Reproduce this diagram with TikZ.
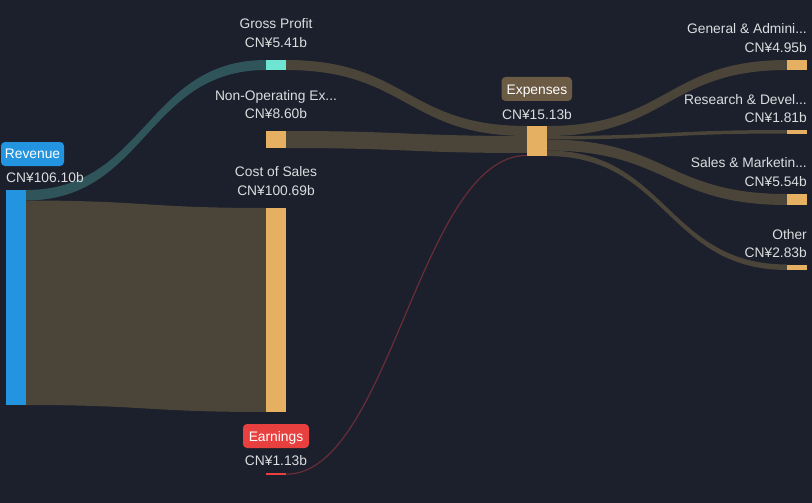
\documentclass[tikz,border=0pt]{standalone}
\usepackage{fontspec}
\setmainfont{Liberation Sans}
\usetikzlibrary{calc}
\begin{document}
\begin{tikzpicture}[x=1pt,y=-1pt]
\definecolor{bg}{HTML}{1B202C}
\definecolor{txt}{HTML}{DCDDDF}
\definecolor{flowbrown}{HTML}{4B4439}
\definecolor{flowteal}{HTML}{2F5459}
\definecolor{flowred}{HTML}{6A2D36}
\definecolor{barorange}{HTML}{E6B063}
\definecolor{barteal}{HTML}{6EE5D3}
\definecolor{barblue}{HTML}{2394DF}
\definecolor{barred}{HTML}{E8403F}
\definecolor{boxbrown}{HTML}{6B5B45}
\tikzset{
  lbl/.style={font=\fontsize{13.8}{15}\selectfont, text=txt, inner sep=0pt, anchor=base},
  lblr/.style={lbl, anchor=base east},
  lbll/.style={lbl, anchor=base west},
  barnode/.style={draw=none, inner sep=0pt, minimum width=20pt, anchor=north west}
}
\newcommand\flowband[7]{%
  \fill[#7] (#1,#2) .. controls ({(#1+#4)/2},#2) and ({(#1+#4)/2},#5) .. (#4,#5)
    -- (#4,#6) .. controls ({(#1+#4)/2},#6) and ({(#1+#4)/2},#3) .. (#1,#3) -- cycle;}
\useasboundingbox (0,0) rectangle (812,503);
\fill[bg] (0,0) rectangle (812,503);
% flows
\flowband{26}{190}{200.5}{266}{60}{70}{flowteal}
\flowband{26}{200.5}{405}{266}{208}{412}{flowbrown}
\flowband{286}{60}{70}{527}{126}{136}{flowbrown}
\flowband{286}{131}{148}{527}{136}{153}{flowbrown}
\flowband{547}{126}{136}{787}{60}{70}{flowbrown}
\flowband{547}{136}{139.5}{787}{130}{133.5}{flowbrown}
\flowband{547}{139.5}{150.5}{787}{194}{205}{flowbrown}
\flowband{547}{150.5}{156}{787}{264.5}{270}{flowbrown}
% bars
\node[barnode, fill=barblue, minimum height=215pt] (rev) at (6,190) {};
\node[barnode, fill=barteal, minimum height=10pt] (gp) at (266,60) {};
\node[barnode, fill=barorange, minimum height=17pt] (nonop) at (266,131) {};
\node[barnode, fill=barorange, minimum height=204pt] (cos) at (266,208) {};
\node[barnode, fill=barred, minimum height=2pt] (earn) at (266,473) {};
\node[barnode, fill=barorange, minimum height=30pt] (exp) at (527,126) {};
\node[barnode, fill=barorange, minimum height=10pt] (ga) at (787,60) {};
\node[barnode, fill=barorange, minimum height=3.5pt] (rd) at (787,130) {};
\node[barnode, fill=barorange, minimum height=11pt] (sm) at (787,194) {};
\node[barnode, fill=barorange, minimum height=5.5pt] (oth) at (787,264.5) {};
% earnings flow
\draw[flowred, line width=1.2pt] ($(exp.south west)+(0,-1)$) .. controls (420,155) and (390,474) .. (earn.east);
% tags
\fill[barblue, rounded corners=4pt] (1,142) rectangle (64,166);
\node[lbl, text=white] (revl) at (32.5,158.3) {Revenue};
\fill[barred, rounded corners=4pt] (243,424) rectangle (309,448);
\node[lbl, text=white] (earnl) at (276,441) {Earnings};
\fill[boxbrown, rounded corners=4pt] (501.5,77) rectangle (572,101);
\node[lbl, text=white] (expl) at (537,94.3) {Expenses};
% labels
\node[lbll] (revv) at (6,182.7) {CN¥106.10b};
\node[lbl] (gpl) at (276,28.3) {Gross Profit};
\node[lbl] (gpv) at (276,47.3) {CN¥5.41b};
\node[lbl] (nol) at (276,100) {Non-Operating Ex...};
\node[lbl] (nov) at (276,118.3) {CN¥8.60b};
\node[lbl] (cosl) at (276,176) {Cost of Sales};
\node[lbl] (cosv) at (276,195) {CN¥100.69b};
\node[lbl] (earnv) at (276,465) {CN¥1.13b};
\node[lbl] (expv) at (537,119) {CN¥15.13b};
\node[lblr] (gal) at (807,34) {General \& Admini...};
\node[lblr] (gav) at (807,52.7) {CN¥4.95b};
\node[lblr] (rdl) at (807,104.3) {Research \& Devel...};
\node[lblr] (rdv) at (807,122.7) {CN¥1.81b};
\node[lblr] (sml) at (807,167.7) {Sales \& Marketin...};
\node[lblr] (smv) at (807,186) {CN¥5.54b};
\node[lblr] (othl) at (807,239.3) {Other};
\node[lblr] (othv) at (807,257.7) {CN¥2.83b};
\end{tikzpicture}
\end{document}
